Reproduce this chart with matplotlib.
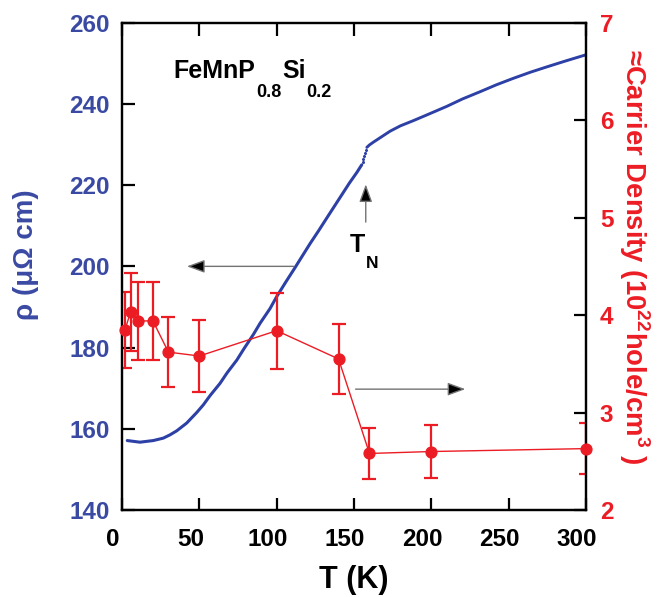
import numpy as np
import matplotlib
matplotlib.use("Agg")
import matplotlib.pyplot as plt
from matplotlib.transforms import ScaledTranslation

# ── Fonts ─────────────────────────────────────────────────────────────────────
plt.rcParams["font.family"] = ["Liberation Sans", "DejaVu Sans"]
plt.rcParams["font.weight"] = "bold"
plt.rcParams["mathtext.fontset"] = "custom"
plt.rcParams["mathtext.rm"] = "Liberation Sans:bold"
plt.rcParams["mathtext.bf"] = "Liberation Sans:bold"

BLUE_TXT = "#3a4aa3"
BLUE_LINE = "#2d40a6"
RED = "#ec1c24"

# ── Data: resistivity (left axis) ─────────────────────────────────────────────
t_low = [3.4, 11.6, 20.2, 26.7, 31, 35.4, 41.8, 48.3, 52.6, 57, 63.4, 68, 74.2, 79,
         84.9, 89.3, 95.7, 100.1, 106, 111.9, 116, 121.6, 127, 132.4, 138, 143.1,
         147, 151.8, 155.0]
rho_low = [157.1, 156.7, 157.1, 157.7, 158.5, 159.5, 161.4, 164.0, 165.9, 168.2, 171.2,
           173.8, 176.9, 179.8, 183.2, 186.0, 189.6, 192.6, 196.2, 199.7, 202.2, 205.6,
           208.7, 211.9, 215.2, 218.2, 220.5, 223.1, 225.0]
t_gap = [155.6, 156.1, 156.7, 157.2, 157.8]
rho_gap = [225.7, 226.4, 227.2, 228.0, 228.7]
t_high = [158.3, 160, 162.6, 167, 173.4, 180, 188.5, 199, 210, 220, 231.5, 242, 253,
          264, 274.5, 287, 300]
rho_high = [229.3, 229.9, 230.6, 231.7, 233.3, 234.6, 235.9, 237.6, 239.4, 241.2,
            243.0, 244.7, 246.3, 247.8, 249.1, 250.6, 252.1]

# ── Data: carrier density (right axis) ────────────────────────────────────────
t_n = [2, 5.5, 10.5, 20, 30, 50, 100, 140, 160, 200, 300]
n_val = [3.85, 4.03, 3.94, 3.94, 3.62, 3.58, 3.84, 3.55, 2.58, 2.60, 2.63]
n_err = [0.39, 0.40, 0.40, 0.40, 0.36, 0.37, 0.39, 0.36, 0.26, 0.27, 0.26]

x_ticks = [0, 50, 100, 150, 200, 250, 300]
rho_ticks = [140, 160, 180, 200, 220, 240, 260]
n_ticks = [2, 3, 4, 5, 6, 7]

W, H = 660, 597
fig = plt.figure(figsize=(W / 100, H / 100), dpi=100)
ax = fig.add_axes([122 / W, 1 - 510 / H, (586 - 122) / W, (510 - 22.7) / H])
ax2 = ax.twinx()

# resistivity curve
ax.plot(t_low, rho_low, color=BLUE_LINE, lw=2.2, solid_capstyle="round")
ax.plot(t_gap, rho_gap, ls="none", marker="o", ms=2.2, color=BLUE_LINE, mec="none")
ax.plot(t_high, rho_high, color=BLUE_LINE, lw=2.1, solid_capstyle="round")

# carrier density with error bars
ax2.errorbar(t_n, n_val, yerr=n_err, fmt="none", ecolor=RED, elinewidth=1.6,
             capsize=5.3, capthick=1.6)
ax2.plot(t_n, n_val, color=RED, lw=1.0, marker="o", ms=7.8, mec=RED, mfc=RED,
         clip_on=False, zorder=3)

ax.set_xlim(0, 300)
ax.set_ylim(140, 260)
ax2.set_ylim(2, 7)
ax.set_xticks(x_ticks)
ax.set_yticks(rho_ticks)
ax2.set_yticks(n_ticks)

for a in (ax, ax2):
    for sp in a.spines.values():
        sp.set_linewidth(1.6)
ax.tick_params(axis="x", direction="in", length=9, width=1.6, top=True,
               labelsize=17.5, pad=13)
ax.tick_params(axis="y", direction="in", length=9, width=1.6, labelsize=17.5,
               pad=9, labelcolor=BLUE_TXT)
ax2.tick_params(axis="y", direction="in", length=9, width=1.6, labelsize=17.5,
                pad=10, labelcolor=RED)

# x tick labels sit a little left of their ticks in the original
shift = ScaledTranslation(-9 / 100, 0, fig.dpi_scale_trans)
for lab in ax.get_xticklabels():
    lab.set_transform(lab.get_transform() + shift)

# ── Axis labels ───────────────────────────────────────────────────────────────
fig.text(354 / W, 1 - 588 / H, "T (K)", fontsize=22, fontweight="bold",
         ha="center", va="baseline")
fig.text(26 / W, 1 - 255 / H, "ρ (μΩ cm)", fontsize=20, fontweight="bold",
         color=BLUE_TXT, rotation=90, ha="center", va="center")
fig.text(634 / W, 1 - 257 / H,
         r"≈Carrier Density (10$^{22}$hole/cm$^{3}$ )",
         fontsize=19.8, fontweight="bold", color=RED, rotation=-90,
         ha="center", va="center")

# ── Arrows ────────────────────────────────────────────────────────────────────
arrow_kw = dict(arrowstyle="-|>,head_length=0.6,head_width=0.22", fc="black",
                ec="0.45", lw=1.0, mutation_scale=18, shrinkA=0, shrinkB=0)
ax.annotate("", xy=(42, 200), xytext=(111, 200), arrowprops=arrow_kw)
ax2.annotate("", xy=(222, 3.24), xytext=(151, 3.24), arrowprops=arrow_kw)
ax.annotate("", xy=(157.6, 220.2), xytext=(157.6, 210.9), arrowprops=arrow_kw)


# ── Text with lowered subscripts ──────────────────────────────────────────────
def chain_text(pieces, x0, y0, gap=1.0):
    renderer = fig.canvas.get_renderer()
    x = x0
    for s, size, dy in pieces:
        t = fig.text(x / W, 1 - (y0 + dy) / H, s, fontsize=size, fontweight="bold",
                     ha="left", va="baseline")
        bb = t.get_window_extent(renderer)
        x = bb.x1 + gap


chain_text([("FeMnP", 18, 0), ("0.8", 13, 19), ("Si", 18, 0), ("0.2", 13, 19)],
           173, 78)
chain_text([("T", 18, 0), ("N", 12.5, 15.5)], 350, 252)

fig.savefig("out.png", dpi=100)
